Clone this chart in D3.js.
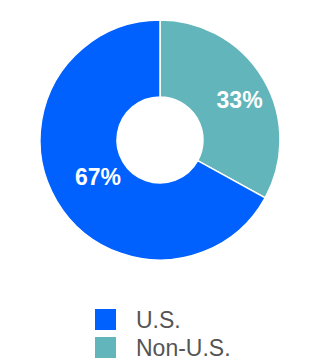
<!DOCTYPE html>
<html>
<head>
<meta charset="utf-8">
<script src="https://cdn.jsdelivr.net/npm/d3@7"></script>
<style>
  html, body { margin: 0; padding: 0; background: #fff; }
  svg { display: block; font-family: "Liberation Sans", Arial, sans-serif; }
</style>
</head>
<body>
<svg id="chart" width="320" height="360"></svg>
<script>
// chart data
const categories = ["U.S.", "Non-U.S."];
const shares = [67, 33];
const labels = ["67%", "33%"];
const colors = ["#0061ff", "#62b5ba"];

const width = 320, height = 360;
const cx = 160, cy = 140;
const outerR = 120, innerR = 43;

const svg = d3.select("#chart");

const pie = d3.pie()
    .value(d => d.value)
    .sort(null)
    .startAngle(0);

// Non-U.S. starts at 12 o'clock going clockwise, U.S. fills the rest
const data = categories.map((c, i) => ({ name: c, value: shares[i], label: labels[i], color: colors[i] }));
const ordered = [data[1], data[0]];

const arc = d3.arc().innerRadius(innerR).outerRadius(outerR);

// label placement: radius + small angle nudge (degrees), big slice sits closer in
const labelPos = d => {
    const big = d.data.value > 50;
    const r = big ? 72 : 89;
    const a = (d.startAngle + d.endAngle) / 2 + (big ? 0 : 4) * Math.PI / 180;
    return [r * Math.sin(a), -r * Math.cos(a)];
};

const g = svg.append("g").attr("transform", `translate(${cx},${cy})`);

const slices = g.selectAll(".slice")
    .data(pie(ordered))
    .enter()
    .append("g")
    .attr("class", "slice");

slices.append("path")
    .attr("d", arc)
    .attr("fill", d => d.data.color)
    .attr("stroke", "#fff")
    .attr("stroke-width", 1.5);

slices.append("text")
    .attr("transform", d => `translate(${labelPos(d)})`)
    .attr("text-anchor", "middle")
    .attr("dy", "0.36em")
    .attr("fill", "#fff")
    .style("font-size", "23px")
    .style("font-weight", "bold")
    .text(d => d.data.label);

// legend
const legend = svg.append("g").attr("transform", "translate(95,309)");
const items = legend.selectAll(".item")
    .data(data)
    .enter()
    .append("g")
    .attr("class", "item")
    .attr("transform", (d, i) => `translate(0,${i * 28})`);

items.append("rect")
    .attr("width", 21)
    .attr("height", 21)
    .attr("fill", d => d.color);

items.append("text")
    .attr("x", 41)
    .attr("y", 19)
    .attr("fill", "#555")
    .style("font-size", "23px")
    .text(d => d.name);
</script>
</body>
</html>
